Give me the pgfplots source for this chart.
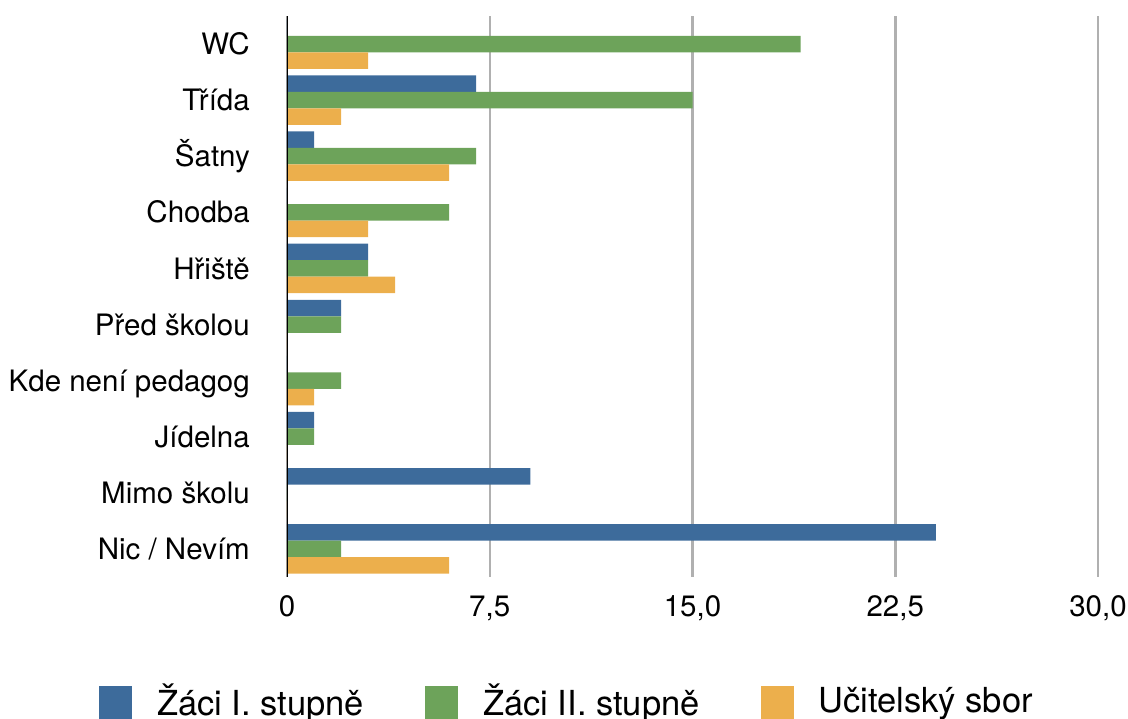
\documentclass[border=0pt]{standalone}
\usepackage{fontspec}
\setmainfont{TeX Gyre Heros}
\usepackage{pgfplots}
\pgfplotsset{compat=1.18}
\definecolor{cblue}{HTML}{3D6B9B}
\definecolor{cgreen}{HTML}{6DA35A}
\definecolor{corange}{HTML}{ECAF4C}
\begin{document}
\begin{tikzpicture}[x=1pt,y=1pt]
\useasboundingbox (0,0) rectangle (1128,719);
\begin{axis}[
  at={(287pt,142pt)}, anchor=south west,
  scale only axis, width=811pt, height=561pt,
  xmin=0, xmax=30, ymin=-0.5, ymax=9.5,
  xbar, bar width=16.5pt,
  axis line style={draw=none},
  major tick length=0pt,
  xtick={0,7.5,15,22.5,30},
  xticklabels={0,{7,5},{15,0},{22,5},{30,0}},
  xmajorgrids,
  grid style={color=black!31, line width=2.5pt},
  ytick={0,...,9},
  yticklabels={Nic / Nevím,Mimo školu,Jídelna,Kde není pedagog,Před školou,Hřiště,Chodba,Šatny,Třída,WC},
  ticklabel style={font=\fontsize{29.5}{34}\selectfont, inner sep=0pt, text height=21.2pt, text depth=0pt},
  yticklabel style={anchor=east, xshift=-37pt},
  xticklabel style={anchor=north, yshift=-18pt},
  legend columns=3,
  legend image code/.code={\fill[#1,draw=none] (0pt,-18pt) rectangle (33pt,15pt);},
  legend style={at={(-0.2318,-0.2219)}, anchor=west, draw=none, fill=none, inner sep=0pt,
    font=\fontsize{34.5}{40}\selectfont,
    nodes={inner sep=0pt},
    /tikz/every odd column/.append style={column sep=25pt},
    /tikz/every even column/.append style={column sep=61pt}},
]
\addplot[fill=cblue, draw=none, bar shift=16.5pt] coordinates {
  (0,9) (7,8) (1,7) (0,6) (3,5) (2,4) (0,3) (1,2) (9,1) (24,0)};
\addplot[fill=cgreen, draw=none, bar shift=0pt] coordinates {
  (19,9) (15,8) (7,7) (6,6) (3,5) (2,4) (2,3) (1,2) (0,1) (2,0)};
\addplot[fill=corange, draw=none, bar shift=-16.5pt] coordinates {
  (3,9) (2,8) (6,7) (3,6) (4,5) (0,4) (1,3) (0,2) (0,1) (6,0)};
\legend{Žáci I. stupně,Žáci II. stupně,Učitelský sbor}
\draw[black, line width=2pt] (axis cs:0,-0.5) -- (axis cs:0,9.5);
\end{axis}
\end{tikzpicture}
\end{document}
